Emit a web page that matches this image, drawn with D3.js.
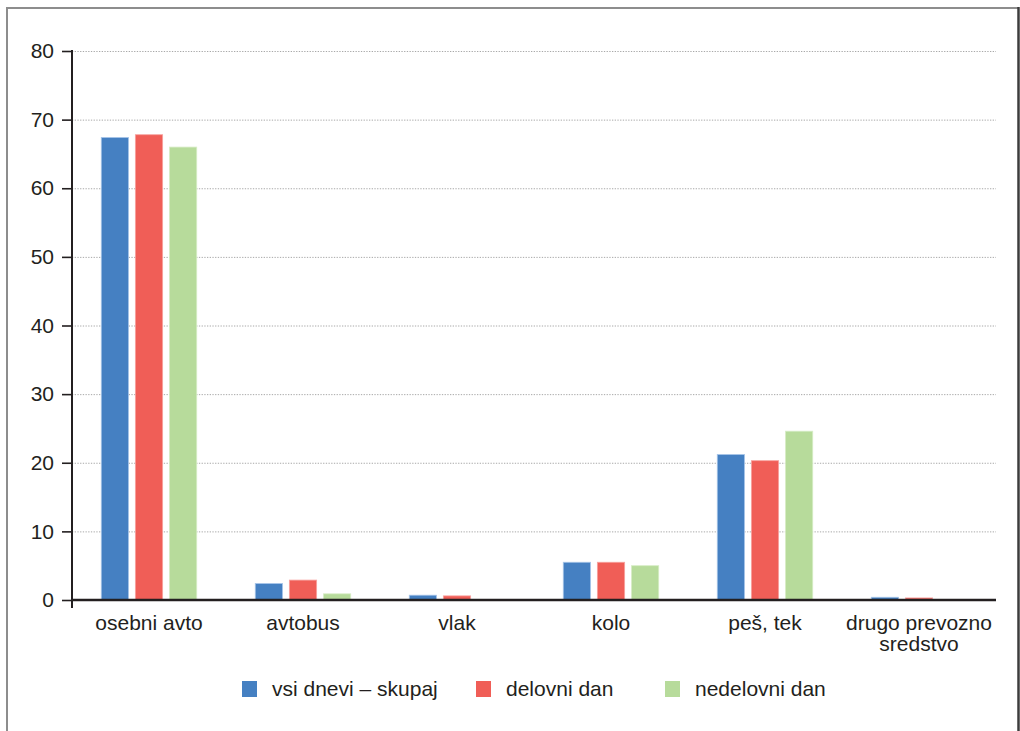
<!DOCTYPE html>
<html>
<head>
<meta charset="utf-8">
<script src="https://cdn.jsdelivr.net/npm/d3@7/dist/d3.min.js"></script>
<style>
  html, body { margin: 0; padding: 0; background: #fff; }
  svg { display: block; }
  text { font-family: "Liberation Sans", Arial, Helvetica, sans-serif; fill: #231f20; }
</style>
</head>
<body>
<svg id="chart" width="1020" height="731"></svg>
<script>
// Modal split of trips by mode of transport (%)
const categories = ["osebni avto", "avtobus", "vlak", "kolo", "peš, tek", "drugo prevozno sredstvo"];
const seriesNames = ["vsi dnevi – skupaj", "delovni dan", "nedelovni dan"];
const allDays     = [67.4, 2.4, 0.7, 5.5, 21.2, 0.4];
const workDays    = [67.8, 2.9, 0.6, 5.5, 20.3, 0.3];
const nonWorkDays = [66.0, 0.9, 0.0, 5.0, 24.6, 0.0];
const yTicks = [0, 10, 20, 30, 40, 50, 60, 70, 80];
const colors = ["#4580c2", "#f05e57", "#b7db9b"];
const strokes = ["#a7c5e9", "#f7a29e", "#d7edc6"];

const seriesValues = [allDays, workDays, nonWorkDays];

const svg = d3.select("#chart");
const W = 1020, H = 731;

// frame
svg.append("rect").attr("x", 0).attr("y", 0).attr("width", W).attr("height", H).attr("fill", "#fff");
svg.append("line").attr("x1", 7).attr("x2", 7).attr("y1", 7).attr("y2", H).attr("stroke", "#8d8d8d").attr("stroke-width", 2);
svg.append("line").attr("x1", 6).attr("x2", 1018).attr("y1", 8).attr("y2", 8).attr("stroke", "#8d8d8d").attr("stroke-width", 2);
svg.append("line").attr("x1", 1018.5).attr("x2", 1018.5).attr("y1", 7).attr("y2", H).attr("stroke", "#3c3c3c").attr("stroke-width", 2.5);

const plot = { left: 72, right: 996, top: 51, bottom: 600 };

const x0 = d3.scaleBand().domain(categories).range([plot.left, plot.right]).padding(0);
const x1 = d3.scaleBand().domain(seriesNames)
  .range([x0.bandwidth() * 0.19, x0.bandwidth() * 0.81]).paddingInner(0.2);
const y = d3.scaleLinear().domain([0, 80]).range([plot.bottom, plot.top]);

// gridlines
svg.append("g")
  .selectAll("line")
  .data(yTicks.filter(t => t > 0))
  .join("line")
  .attr("x1", plot.left).attr("x2", plot.right)
  .attr("y1", d => y(d) + 0.5).attr("y2", d => y(d) + 0.5)
  .attr("stroke", "#a8a8a8").attr("stroke-width", 1)
  .attr("stroke-dasharray", "1.3,1.4");

// bars
const groups = svg.append("g")
  .selectAll("g")
  .data(categories)
  .join("g")
  .attr("transform", d => `translate(${x0(d)},0)`);

groups.selectAll("rect")
  .data((c, ci) => seriesNames.map((s, si) => ({ s, si, v: seriesValues[si][ci] })))
  .join("rect")
  .filter(d => d.v > 0)
  .attr("x", d => x1(d.s))
  .attr("width", x1.bandwidth())
  .attr("y", d => y(d.v))
  .attr("height", d => y(0) - y(d.v))
  .attr("fill", d => colors[d.si])
  .attr("stroke", d => strokes[d.si])
  .attr("stroke-width", 0.8);

// y axis
const yAxis = d3.axisLeft(y).tickValues(yTicks).tickSize(10).tickPadding(8).tickFormat(d3.format("d"));
const gy = svg.append("g").attr("transform", `translate(${plot.left},0)`).call(yAxis);
gy.select(".domain").remove();
gy.selectAll(".tick line").attr("stroke", "#231f20").attr("stroke-width", 1.6);
gy.selectAll(".tick text").attr("font-size", 21).attr("fill", "#231f20")
  .attr("font-family", "Liberation Sans, Arial, sans-serif");
svg.append("line").attr("x1", plot.left).attr("x2", plot.left)
  .attr("y1", plot.top - 1).attr("y2", plot.bottom + 8)
  .attr("stroke", "#231f20").attr("stroke-width", 2);

// x axis baseline
svg.append("line").attr("x1", plot.left).attr("x2", plot.right)
  .attr("y1", y(0)).attr("y2", y(0))
  .attr("stroke", "#231f20").attr("stroke-width", 2.4);

// category labels (wrapped on two lines where needed)
const wrap = { "drugo prevozno sredstvo": ["drugo prevozno", "sredstvo"] };
const labels = svg.append("g")
  .selectAll("text")
  .data(categories)
  .join("text")
  .attr("x", d => x0(d) + x0.bandwidth() / 2)
  .attr("y", 630)
  .attr("text-anchor", "middle")
  .attr("font-size", 21);
labels.selectAll("tspan")
  .data(d => wrap[d] || [d])
  .join("tspan")
  .attr("x", function () { return d3.select(this.parentNode).attr("x"); })
  .attr("dy", (d, i) => i === 0 ? 0 : 21)
  .text(d => d);

// legend
const legendX = [242, 476, 665];
const legend = svg.append("g")
  .selectAll("g")
  .data(seriesNames)
  .join("g")
  .attr("transform", (d, i) => `translate(${legendX[i]},681)`);
legend.append("rect").attr("width", 15).attr("height", 16).attr("fill", (d, i) => colors[i]);
legend.append("text").attr("x", 30).attr("y", 14.5).attr("font-size", 21).text(d => d);
</script>
</body>
</html>
